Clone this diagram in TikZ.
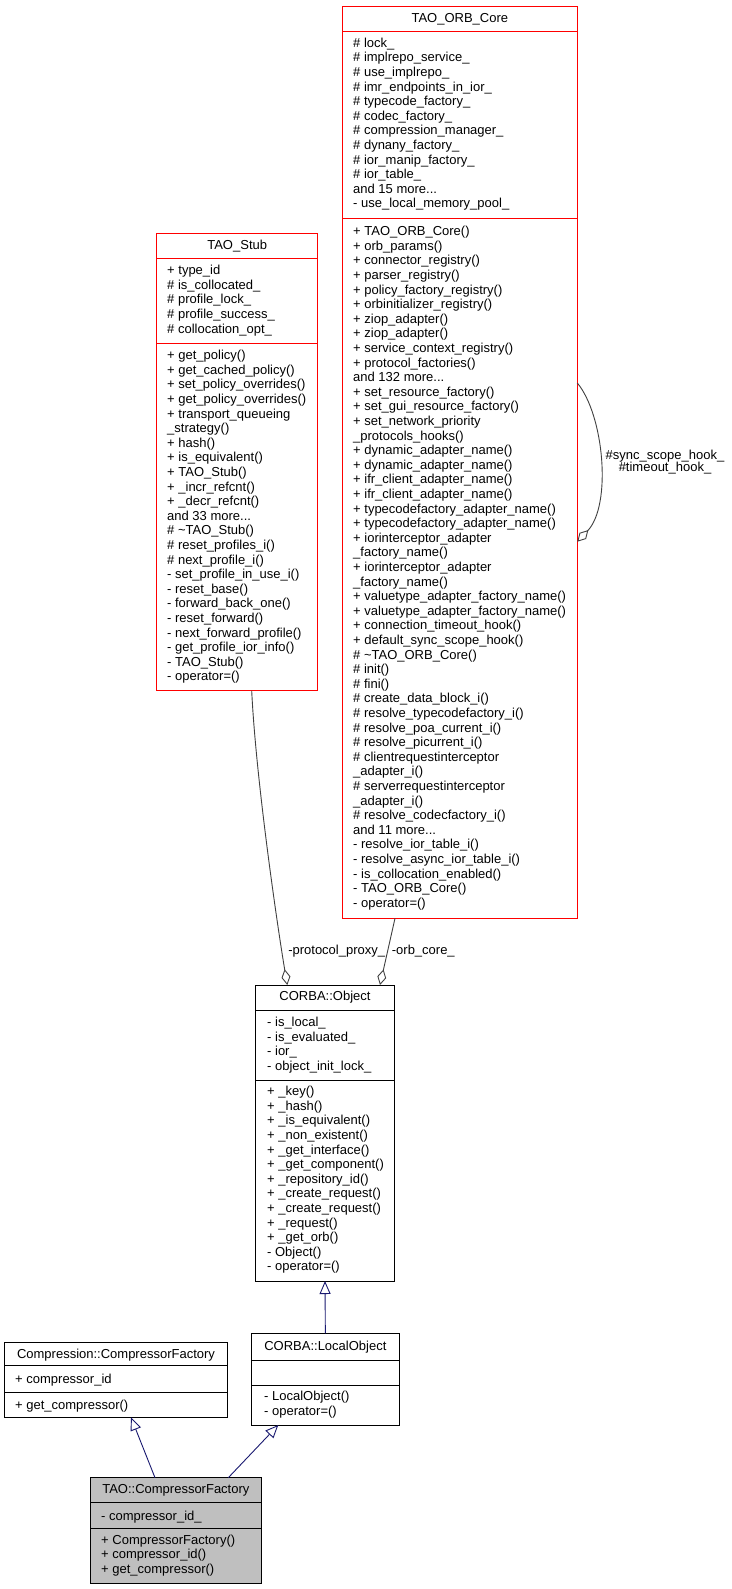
\documentclass[tikz,border=0pt]{standalone}
\usepackage{fontspec}
\setmainfont{Liberation Sans}
\usetikzlibrary{arrows.meta}
\definecolor{boxred}{HTML}{FF0000}
\definecolor{inh}{HTML}{191970}
\definecolor{agg}{HTML}{404040}
\definecolor{grayfill}{HTML}{BFBFBF}
\newcommand\mylines[4]{\node[txt] (#1) at (#2,#3) {\begin{tabular}[t]{@{}l@{}}#4\end{tabular}};}
\tikzset{
  box/.style={draw, inner sep=0pt, outer sep=0pt, anchor=north west, line width=1pt},
  redbox/.style={box, draw=boxred, fill=white},
  blackbox/.style={box, draw=black, fill=white},
  graybox/.style={box, draw=black, fill=grayfill},
  txt/.style={inner sep=0pt, anchor=base west, font=\fontsize{13}{14.6}\selectfont},
  ttl/.style={inner sep=0pt, anchor=base, font=\fontsize{13}{14.6}\selectfont},
  lbl/.style={inner sep=0pt, anchor=base, font=\fontsize{13}{13.3}\selectfont, align=center},
  sepred/.style={draw=boxred, line width=1pt},
  sepblack/.style={draw=black, line width=1pt},
  aggline/.style={draw=agg, line width=0.9pt, -{Diamond[open, length=16pt, width=9pt]}},
  inhline/.style={draw=inh, line width=0.9pt, -{Triangle[open, length=13pt, width=11pt]}}
}
\begin{document}
\begin{tikzpicture}[x=1pt, y=-1pt]
\fill[white] (0,0) rectangle (731,1589);
\useasboundingbox (0,0) rectangle (731,1589);

% ---------- TAO_Stub ----------
\node[redbox, minimum width=161pt, minimum height=456.7pt] (stub) at (156.7,234) {};
\draw[sepred] (stub.west |- 0,259) -- (stub.east |- 0,259);
\draw[sepred] (stub.west |- 0,343) -- (stub.east |- 0,343);
\node[ttl] (stubT) at (237.2,249.7) {TAO\_Stub};
\mylines{stubA}{167}{274.7}{+ type\_id\\ \# is\_collocated\_\\ \# profile\_lock\_\\ \# profile\_success\_\\ \# collocation\_opt\_}
\mylines{stubM}{167}{359.7}{+ get\_policy()\\ + get\_cached\_policy()\\ + set\_policy\_overrides()\\ + get\_policy\_overrides()\\ + transport\_queueing\\ \_strategy()\\ + hash()\\ + is\_equivalent()\\ + TAO\_Stub()\\ + \_incr\_refcnt()\\ + \_decr\_refcnt()\\ and 33 more...\\ \# \textasciitilde TAO\_Stub()\\ \# reset\_profiles\_i()\\ \# next\_profile\_i()\\ - set\_profile\_in\_use\_i()\\ - reset\_base()\\ - forward\_back\_one()\\ - reset\_forward()\\ - next\_forward\_profile()\\ - get\_profile\_ior\_info()\\ - TAO\_Stub()\\ - operator=()}

% ---------- TAO_ORB_Core ----------
\node[redbox, minimum width=235pt, minimum height=911.6pt] (core) at (342.3,6.7) {};
\draw[sepred] (core.west |- 0,32) -- (core.east |- 0,32);
\draw[sepred] (core.west |- 0,218.3) -- (core.east |- 0,218.3);
\node[ttl] (coreT) at (459.8,22.3) {TAO\_ORB\_Core};
\mylines{coreA}{353}{47.3}{\# lock\_\\ \# implrepo\_service\_\\ \# use\_implrepo\_\\ \# imr\_endpoints\_in\_ior\_\\ \# typecode\_factory\_\\ \# codec\_factory\_\\ \# compression\_manager\_\\ \# dynany\_factory\_\\ \# ior\_manip\_factory\_\\ \# ior\_table\_\\ and 15 more...\\ - use\_local\_memory\_pool\_}
\mylines{coreM}{353}{235.7}{+ TAO\_ORB\_Core()\\ + orb\_params()\\ + connector\_registry()\\ + parser\_registry()\\ + policy\_factory\_registry()\\ + orbinitializer\_registry()\\ + ziop\_adapter()\\ + ziop\_adapter()\\ + service\_context\_registry()\\ + protocol\_factories()\\ and 132 more...\\ + set\_resource\_factory()\\ + set\_gui\_resource\_factory()\\ + set\_network\_priority\\ \_protocols\_hooks()\\ + dynamic\_adapter\_name()\\ + dynamic\_adapter\_name()\\ + ifr\_client\_adapter\_name()\\ + ifr\_client\_adapter\_name()\\ + typecodefactory\_adapter\_name()\\ + typecodefactory\_adapter\_name()\\ + iorinterceptor\_adapter\\ \_factory\_name()\\ + iorinterceptor\_adapter\\ \_factory\_name()\\ + valuetype\_adapter\_factory\_name()\\ + valuetype\_adapter\_factory\_name()\\ + connection\_timeout\_hook()\\ + default\_sync\_scope\_hook()\\ \# \textasciitilde TAO\_ORB\_Core()\\ \# init()\\ \# fini()\\ \# create\_data\_block\_i()\\ \# resolve\_typecodefactory\_i()\\ \# resolve\_poa\_current\_i()\\ \# resolve\_picurrent\_i()\\ \# clientrequestinterceptor\\ \_adapter\_i()\\ \# serverrequestinterceptor\\ \_adapter\_i()\\ \# resolve\_codecfactory\_i()\\ and 11 more...\\ - resolve\_ior\_table\_i()\\ - resolve\_async\_ior\_table\_i()\\ - is\_collocation\_enabled()\\ - TAO\_ORB\_Core()\\ - operator=()}

% ---------- CORBA::Object ----------
\node[blackbox, minimum width=138.6pt, minimum height=296pt] (obj) at (255.7,985) {};
\draw[sepblack] (obj.west |- 0,1010.7) -- (obj.east |- 0,1010.7);
\draw[sepblack] (obj.west |- 0,1080) -- (obj.east |- 0,1080);
\node[ttl] (objT) at (325,1000.7) {CORBA::Object};
\mylines{objA}{267}{1026.7}{- is\_local\_\\ - is\_evaluated\_\\ - ior\_\\ - object\_init\_lock\_}
\mylines{objM}{267}{1095.7}{+ \_key()\\ + \_hash()\\ + \_is\_equivalent()\\ + \_non\_existent()\\ + \_get\_interface()\\ + \_get\_component()\\ + \_repository\_id()\\ + \_create\_request()\\ + \_create\_request()\\ + \_request()\\ + \_get\_orb()\\ - Object()\\ - operator=()}

% ---------- CORBA::LocalObject ----------
\node[blackbox, minimum width=147.3pt, minimum height=91.7pt] (local) at (251.7,1333.3) {};
\draw[sepblack] (local.west |- 0,1360) -- (local.east |- 0,1360);
\draw[sepblack] (local.west |- 0,1385) -- (local.east |- 0,1385);
\node[ttl] (localT) at (325.35,1350.7) {CORBA::LocalObject};
\mylines{localM}{264}{1400.7}{- LocalObject()\\ - operator=()}

% ---------- Compression::CompressorFactory ----------
\node[blackbox, minimum width=223.4pt, minimum height=75pt] (comp) at (4.3,1342.3) {};
\draw[sepblack] (comp.west |- 0,1365.7) -- (comp.east |- 0,1365.7);
\draw[sepblack] (comp.west |- 0,1392.3) -- (comp.east |- 0,1392.3);
\node[ttl] (compT) at (116,1358) {Compression::CompressorFactory};
\mylines{compA}{15}{1383.3}{+ compressor\_id}
\mylines{compM}{15}{1409}{+ get\_compressor()}

% ---------- TAO::CompressorFactory ----------
\node[graybox, minimum width=171.7pt, minimum height=105.6pt] (tao) at (90,1477.7) {};
\draw[sepblack] (tao.west |- 0,1502.7) -- (tao.east |- 0,1502.7);
\draw[sepblack] (tao.west |- 0,1528.3) -- (tao.east |- 0,1528.3);
\node[ttl] (taoT) at (175.85,1493.3) {TAO::CompressorFactory};
\mylines{taoA}{101}{1520}{- compressor\_id\_}
\mylines{taoM}{101}{1544}{+ CompressorFactory()\\ + compressor\_id()\\ + get\_compressor()}

% ---------- connectors ----------
\draw[aggline] ([xshift=14.5pt]stub.south) .. controls +(4.3,90) and +(-9.3,-55) .. ([xshift=-37.7pt]obj.north);
\draw[aggline] ([xshift=-64.8pt]core.south) -- ([xshift=55pt]obj.north);
\draw[aggline] ([yshift=79.5pt]core.east) .. controls +(26.7,32) and +(34.7,-36.7) .. ([yshift=-79.2pt]core.east);
\draw[inhline] ([xshift=-20.85pt]tao.north) -- ([xshift=15pt]comp.south);
\draw[inhline] ([xshift=52.45pt]tao.north) -- ([xshift=-47.05pt]local.south);
\draw[inhline] (local.north) -- (obj.south);

% ---------- labels ----------
\node[lbl] (lpp) at (336.7,954.7) {-protocol\_proxy\_};
\node[lbl] (loc) at (423.3,954.7) {-orb\_core\_};
\node[lbl] (lhook) at (665,459) {\begin{tabular}[t]{@{}c@{}}\#sync\_scope\_hook\_\\[-1.3pt] \#timeout\_hook\_\end{tabular}};
\end{tikzpicture}
\end{document}
